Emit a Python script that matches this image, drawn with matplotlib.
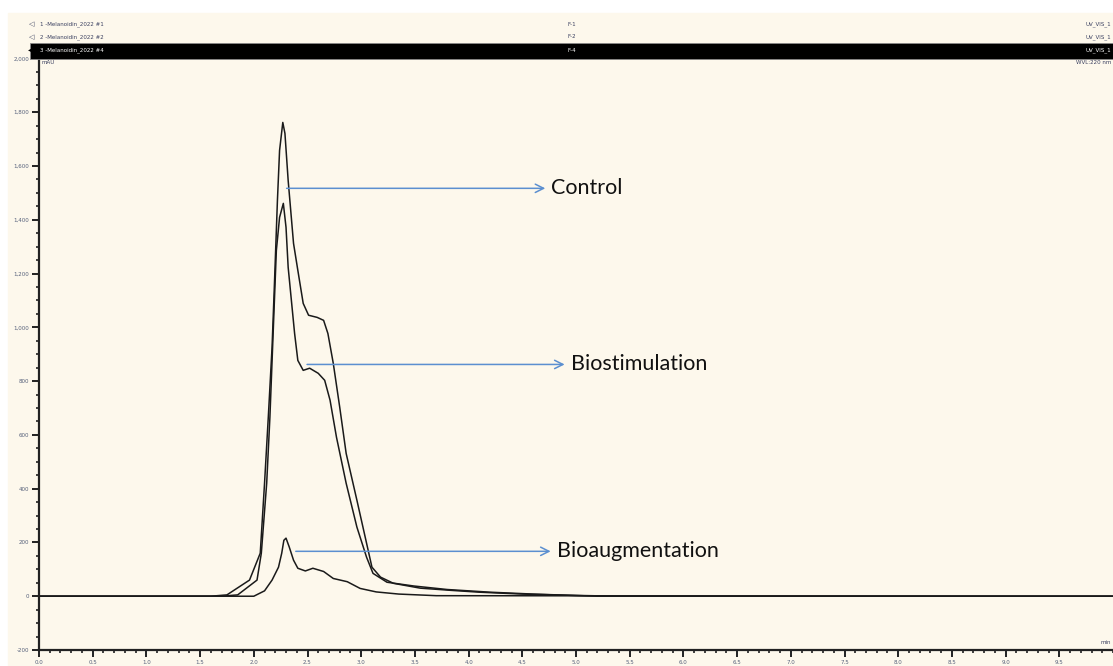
import numpy as np
import matplotlib
matplotlib.use("Agg")
import matplotlib.pyplot as plt
from matplotlib.patches import Rectangle
from matplotlib.ticker import MultipleLocator, FuncFormatter

# ---------------------- DATA ----------------------

control_t = [0.0, 1.60, 1.75, 1.96, 2.06, 2.10, 2.135, 2.17, 2.19, 2.22, 2.24, 2.27,
             2.29, 2.32, 2.37, 2.41, 2.46, 2.51, 2.59, 2.65, 2.69, 2.74, 2.80, 2.86,
             2.96, 3.05, 3.10, 3.18, 3.30, 3.55, 3.83, 4.10, 4.50, 5.00, 5.40, 10.0]
control_v = [0, 0, 5, 60, 160, 420, 666, 926, 1138, 1472, 1658, 1762,
             1721, 1546, 1312, 1212, 1089, 1045, 1037, 1026, 977, 866, 703, 531,
             357, 197, 108, 71, 48, 30, 22, 15, 8, 3, 0, 0]

biostim_t = [0.0, 1.70, 1.85, 2.03, 2.07, 2.12, 2.15, 2.18, 2.21, 2.24, 2.275, 2.30,
             2.32, 2.35, 2.38, 2.41, 2.46, 2.52, 2.60, 2.66, 2.71, 2.77, 2.86, 2.96,
             3.05, 3.11, 3.24, 3.49, 3.80, 4.20, 4.60, 5.20, 10.0]
biostim_v = [0, 0, 5, 60, 160, 420, 666, 977, 1286, 1409, 1461, 1372,
             1223, 1100, 977, 877, 840, 848, 829, 803, 729, 591, 420, 257,
             145, 85, 52, 38, 25, 15, 8, 0, 0]

bioaug_t = [0.0, 2.00, 2.10, 2.17, 2.23, 2.26, 2.28, 2.30, 2.33, 2.37, 2.41, 2.48,
            2.55, 2.65, 2.74, 2.87, 2.99, 3.14, 3.35, 3.70, 10.0]
bioaug_v = [0, 0, 20, 60, 108, 160, 208, 216, 183, 134, 104, 94,
            104, 92, 66, 54, 29, 16, 8, 2, 0]

labels = ["Control", "Biostimulation", "Bioaugmentation"]
header_names = ["1 -Melanoidin_2022 #1", "2 -Melanoidin_2022 #2", "3 -Melanoidin_2022 #4"]
header_codes = ["F-1", "F-2", "F-4"]

# ---------------------- FIGURE ----------------------

W, H = 1113, 666
cream = "#fdf8ec"
tick_col = "#55607a"


def px(x, y):
    return x / W, 1 - y / H


fig = plt.figure(figsize=(W / 100, H / 100), dpi=100, facecolor="white")
fig.patches.append(Rectangle(px(8, H), (W - 8) / W, (H - 13) / H,
                             transform=fig.transFigure, color=cream, zorder=-10))

# header rows
for i, (name, code) in enumerate(zip(header_names, header_codes)):
    y = 24 + i * 13
    col = "white" if i == 2 else "#3a4060"
    if i == 2:
        fig.patches.append(Rectangle(px(30, 59), (W - 30) / W, 16 / H,
                                     transform=fig.transFigure, facecolor="black",
                                     edgecolor="#888888", lw=0.6, zorder=5))
        fig.text(*px(28, y), "\u25C0", fontsize=7, color="black", va="center", zorder=6)
    else:
        fig.text(*px(29, y), "\u25C1", fontsize=5, color="#3a4060", va="center", zorder=6)
    fig.text(*px(40, y), name, fontsize=4, color=col, va="center", zorder=6)
    fig.text(*px(567, y), code, fontsize=4, color=col, va="center", zorder=6)
    fig.text(*px(1111, y), "UV_VIS_1", fontsize=4, color=col, va="center",
             ha="right", zorder=6)

fig.text(*px(1111, 63), "WVL:220 nm", fontsize=4, color="#3a4060", va="center", ha="right")
fig.text(*px(42, 63), "mAU", fontsize=4, color="#3a4060", va="center")
fig.text(*px(1111, 643), "min", fontsize=4, color="#3a4060", va="center", ha="right")

# axes: x 0..10 over px 39..1113, y -200..2050 over px 650..45
ax = fig.add_axes([39 / W, 16 / H, (W - 39) / W, 605 / H])
ax.set_facecolor("none")
ax.set_xlim(0, 10.0)
ax.set_ylim(-200, 2050)

for t, v in [(control_t, control_v), (biostim_t, biostim_v), (bioaug_t, bioaug_v)]:
    ax.plot(t, v, color="#1a1a1a", lw=1.1)

# annotations
arrow_col = "#5b8fd0"
ann = [(2.28, 1517, 4.74, labels[0]),
       (2.47, 862, 4.92, labels[1]),
       (2.365, 167, 4.79, labels[2])]
for x0, yv, x1, txt in ann:
    ax.annotate("", xy=(x1, yv), xytext=(x0, yv),
                arrowprops=dict(arrowstyle="->", color=arrow_col, lw=1.1,
                                mutation_scale=15))
    ax.text(x1 + 0.03, yv, txt, fontsize=15.5, family="Lato", color="#111111",
            va="center", ha="left")

# spines & ticks
for s in ["top", "right"]:
    ax.spines[s].set_visible(False)
for s in ["left", "bottom"]:
    ax.spines[s].set_linewidth(1.6)
    ax.spines[s].set_color("#222222")

ax.xaxis.set_major_locator(MultipleLocator(0.5))
ax.xaxis.set_minor_locator(MultipleLocator(0.1))
ax.yaxis.set_major_locator(MultipleLocator(200))
ax.yaxis.set_minor_locator(MultipleLocator(50))
ax.set_xticks(np.arange(0, 10.0, 0.5))
ax.set_yticks(np.arange(-200, 2001, 200))
ax.xaxis.set_major_formatter(FuncFormatter(lambda v, p: f"{v:.1f}"))
ax.yaxis.set_major_formatter(FuncFormatter(lambda v, p: f"{int(v):,}"))

ax.tick_params(axis="both", which="major", direction="out", length=5, width=1.4,
               labelsize=4, labelcolor=tick_col, color="#222222", pad=2)
ax.tick_params(axis="both", which="minor", direction="out", length=2.5, width=1.2,
               color="#222222")

fig.savefig("out.png", dpi=100, facecolor="white")
